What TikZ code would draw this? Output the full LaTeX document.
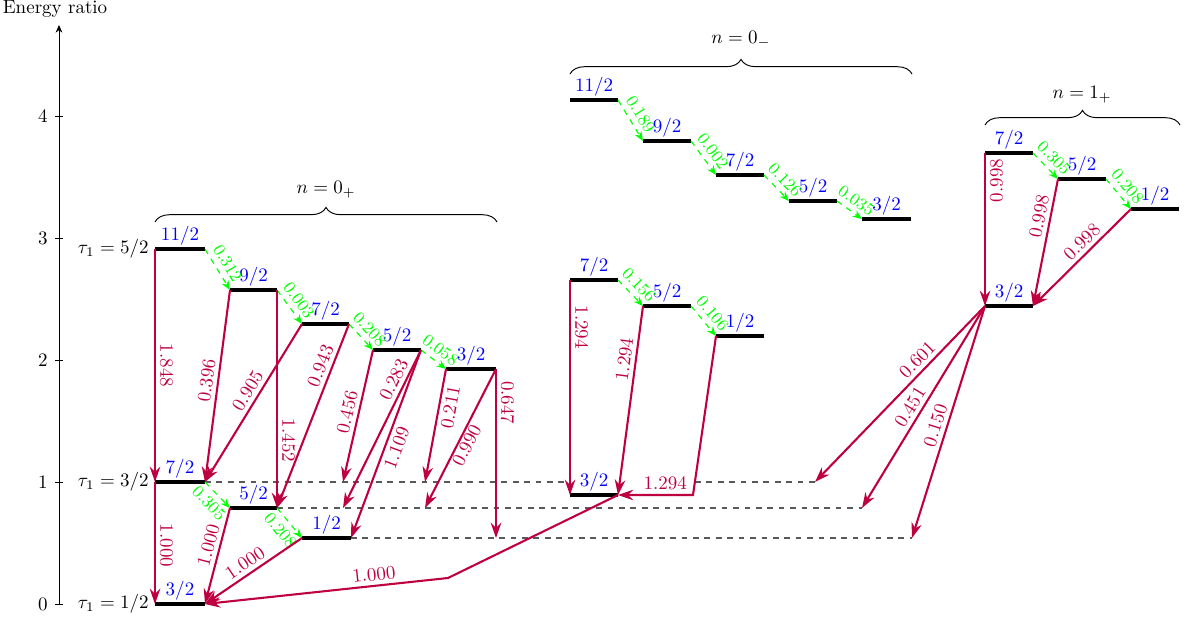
\documentclass[tikz,border=0pt]{standalone}
\usetikzlibrary{arrows.meta,decorations.pathreplacing}
\newcommand{\mklevel}[5]{%
  \coordinate (#1l) at (#2,#4);
  \coordinate (#1r) at (#3,#4);
  \draw[levelline] (#1l) -- (#1r) node[midway, lvl] (#1t) {$#5$};
}
\begin{document}
\begin{tikzpicture}[x=0.0185cm,y=-0.0185cm,
  levelline/.style={line width=1.6pt, black},
  lvl/.style={text=blue, anchor=south, inner sep=1.2pt},
  tr/.style={purple, line width=1.1pt, -{Stealth[length=8pt,width=5.5pt]}},
  trl/.style={text=purple, sloped, inner sep=2pt},
  gt/.style={green, dashed, line width=0.6pt, -{Stealth[length=5pt,width=4pt]}},
  gtl/.style={text=green, sloped, font=\small, inner sep=2.8pt},
  guide/.style={black!65, dashed, line width=0.6pt},
  brc/.style={decorate, decoration={brace, amplitude=0.27cm}, line width=0.5pt}]
\useasboundingbox (0,0) rectangle (1188,624);

% axis
\coordinate (ax0) at (59,604);
\coordinate (ax1) at (59,25);
\draw[line width=0.5pt, -{Stealth[length=4pt,width=3.5pt]}] (ax0) -- (ax1);
\node (axt) at (55,9) {Energy ratio};
\foreach \v/\yy in {0/604,1/482,2/360,3/238,4/116}{
  \draw (55,\yy) -- (63,\yy);
  \node[anchor=east, inner sep=0pt] (tk\v) at (48,\yy) {$\v$};
}
\node[anchor=east, inner sep=0pt] (tau5) at (149,249) {$\tau_1=5/2$};
\node[anchor=east, inner sep=0pt] (tau3) at (149,482) {$\tau_1=3/2$};
\node[anchor=east, inner sep=0pt] (tau1) at (149,604) {$\tau_1=1/2$};

% braces
\coordinate (bA1) at (155,222); \coordinate (bA2) at (497,222);
\draw[brc] (bA1) -- (bA2);
\node (nA) at (326,190) {$n=0_+$};
\coordinate (bD1) at (570,74); \coordinate (bD2) at (912,74);
\draw[brc] (bD1) -- (bD2);
\node (nD) at (741,40) {$n=0_-$};
\coordinate (bG1) at (985,125); \coordinate (bG2) at (1180,125);
\draw[brc] (bG1) -- (bG2);
\node (nG) at (1082,95) {$n=1_+$};

% auxiliary points
\coordinate (d1) at (815,482);
\coordinate (d1a) at (570,482);
\coordinate (d1b) at (695,482);
\coordinate (d2) at (862,508);
\coordinate (d3) at (912,538);
\coordinate (t1) at (343,482);
\coordinate (t2) at (343,508);
\coordinate (t3) at (425,482);
\coordinate (t4) at (425,508);
\coordinate (t5) at (496,538);
\coordinate (k1) at (448,578);
\coordinate (k2) at (693,495);

% levels
\mklevel{A11}{155}{205}{249}{11/2}
\mklevel{A9}{230}{277}{290}{9/2}
\mklevel{A7}{302}{349}{324}{7/2}
\mklevel{A5}{373}{421}{350}{5/2}
\mklevel{A3}{446}{496}{369}{3/2}
\mklevel{B7}{155}{205}{482}{7/2}
\mklevel{B5}{230}{277}{508}{5/2}
\mklevel{B1}{302}{351}{538}{1/2}
\mklevel{C3}{155}{205}{604}{3/2}
\mklevel{D11}{570}{618}{100}{11/2}
\mklevel{D9}{643}{691}{141}{9/2}
\mklevel{D7}{716}{764}{175}{7/2}
\mklevel{D5}{789}{837}{201}{5/2}
\mklevel{D3}{862}{911}{219}{3/2}
\mklevel{E7}{570}{618}{280}{7/2}
\mklevel{E5}{643}{691}{306}{5/2}
\mklevel{E1}{716}{764}{336}{1/2}
\mklevel{F3}{570}{618}{495}{3/2}
\mklevel{G7}{985}{1033}{153}{7/2}
\mklevel{G5}{1058}{1106}{179}{5/2}
\mklevel{G1}{1131}{1179}{209}{1/2}
\mklevel{H3}{985}{1033}{306}{3/2}

\draw[guide] (B7r) -- (d1a);
\draw[guide] (d1b) -- (d1);
\draw[guide] (B5r) -- (d2);
\draw[guide] (B1r) -- (d3);

% green transitions
\draw[gt] (A11r) -- node[gtl, above] (g1) {0.312} (A9l);
\draw[gt] (A9r) -- node[gtl, above] (g2) {0.003} (A7l);
\draw[gt] (A7r) -- node[gtl, above] (g3) {0.208} (A5l);
\draw[gt] (A5r) -- node[gtl, above] (g4) {0.058} (A3l);
\draw[gt] (B7r) -- node[gtl, below] (g5) {0.305} (B5l);
\draw[gt] (B5r) -- node[gtl, below] (g6) {0.208} (B1l);
\draw[gt] (D11r) -- node[gtl, above] (g7) {0.189} (D9l);
\draw[gt] (D9r) -- node[gtl, above] (g8) {0.002} (D7l);
\draw[gt] (D7r) -- node[gtl, above] (g9) {0.126} (D5l);
\draw[gt] (D5r) -- node[gtl, above] (g10) {0.035} (D3l);
\draw[gt] (E7r) -- node[gtl, above] (g11) {0.156} (E5l);
\draw[gt] (E5r) -- node[gtl, above] (g12) {0.106} (E1l);
\draw[gt] (G7r) -- node[gtl, above] (g13) {0.305} (G5l);
\draw[gt] (G5r) -- node[gtl, above] (g14) {0.208} (G1l);

% red transitions, n = 0_+
\draw[tr] (A11l) -- node[trl, above, pos=0.5] (r1) {1.848} (B7l);
\draw[tr] (B7l) -- node[trl, above, pos=0.52] (r2) {1.000} (C3l);
\draw[tr] (B5l) -- node[trl, above, pos=0.42] (r3) {1.000} (C3r);
\draw[tr] (B1l) -- node[trl, above, pos=0.52] (r4) {1.000} (C3r);
\draw[tr] (A9l) -- node[trl, above, pos=0.48] (r5) {0.396} (B7r);
\draw[tr] (A7l) -- node[trl, above, pos=0.46] (r6) {0.905} (B7r);
\draw[tr] (A9r) -- node[trl, above, pos=0.69] (r7) {1.452} (B5r);
\draw[tr] (A7r) -- node[trl, above, pos=0.25] (r8) {0.943} (B5r);
\draw[tr] (A5l) -- node[trl, above, pos=0.49] (r9) {0.456} (t1);
\draw[tr] (A5r) -- node[trl, above, pos=0.22] (r10) {0.283} (t2);
\draw[tr] (A5r) -- node[trl, below, pos=0.5] (r11) {1.109} (B1r);
\draw[tr] (A3l) -- node[trl, below, pos=0.32] (r12) {0.211} (t3);
\draw[tr] (A3r) -- node[trl, below, pos=0.52, inner sep=0.5pt] (r13) {0.990} (t4);
\draw[tr] (A3r) -- node[trl, above, pos=0.2] (r14) {0.647} (t5);

% red transitions, n = 0_-
\draw[tr] (E7l) -- node[trl, above, pos=0.22] (r15) {1.294} (F3l);
\draw[tr] (E5l) -- node[trl, above, pos=0.29] (r16) {1.294} (F3r);
\draw[tr] (E1l) -- (k2) -- node[trl, above, pos=0.37] (r17) {1.294} (F3r);
\draw[tr] (F3r) -- (k1) -- node[trl, above, pos=0.3] (r18) {1.000} (C3r);

% red transitions, n = 1_+
\draw[tr] (G7l) -- node[text=purple, pos=0.18, rotate=90, anchor=north, inner sep=2pt] (r19) {0.998} (H3l);
\draw[tr] (G5l) -- node[trl, above, pos=0.31] (r20) {0.998} (H3r);
\draw[tr] (G1l) -- node[trl, above, pos=0.42] (r21) {0.998} (H3r);
\draw[tr] (H3l) -- node[trl, above, pos=0.35] (r22) {0.601} (d1);
\draw[tr] (H3l) -- node[trl, above, pos=0.53] (r23) {0.451} (d2);
\draw[tr] (H3l) -- node[trl, above, pos=0.53] (r24) {0.150} (d3);
\end{tikzpicture}
\end{document}
